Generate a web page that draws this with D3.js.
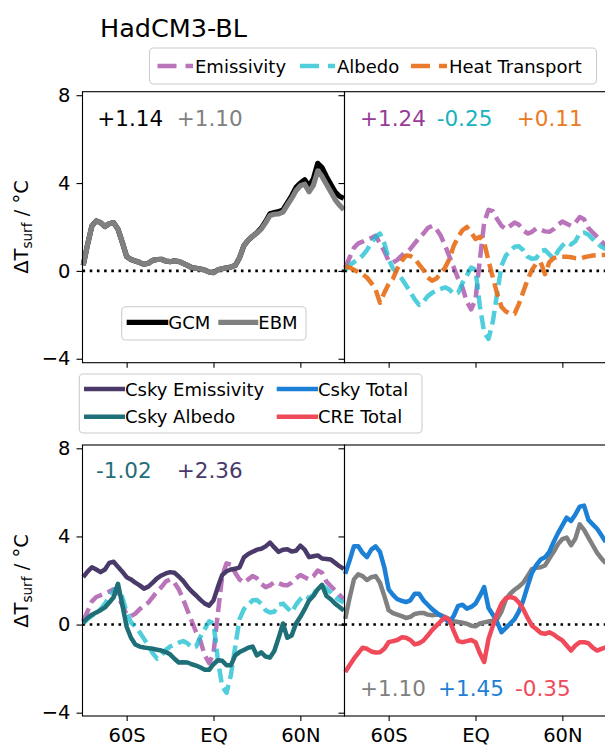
<!DOCTYPE html>
<html><head><meta charset="utf-8">
<script src="https://cdn.jsdelivr.net/npm/d3@7"></script>
<style>body{margin:0;background:#fff} svg{display:block} text{font-family:"DejaVu Sans",sans-serif}</style>
</head><body><svg id="c" width="605" height="747"></svg>
<script>
const lats = [-90,-87,-84,-81,-78,-75,-72,-69,-66,-63,-60,-57,-54,-51,-48,-45,-42,-39,-36,-33,-30,-27,-24,-21,-18,-15,-12,-9,-6,-3,0,3,6,9,12,15,18,21,24,27,30,33,36,39,42,45,48,51,54,57,60,63,66,69,72,75,78,81,84,87,90];
const ebm = [0.26,1.2,2.05,2.28,2.2,2.02,2.15,2.2,1.9,1.3,0.65,0.52,0.45,0.38,0.3,0.35,0.48,0.52,0.53,0.45,0.42,0.46,0.43,0.34,0.25,0.15,0.12,0.08,0.04,-0.05,-0.08,0.05,0.1,0.14,0.18,0.25,0.6,1.15,1.4,1.58,1.72,1.9,2.2,2.52,2.58,2.6,2.68,3.0,3.3,3.65,3.88,3.95,3.6,3.9,4.55,4.3,3.95,3.6,3.25,3.0,2.78];
const gcm = [0.26,1.2,2.05,2.28,2.2,2.02,2.15,2.2,1.9,1.3,0.65,0.52,0.45,0.38,0.3,0.35,0.48,0.52,0.53,0.45,0.42,0.46,0.43,0.34,0.25,0.15,0.12,0.08,0.04,-0.05,-0.08,0.05,0.1,0.14,0.18,0.25,0.6,1.15,1.4,1.58,1.74,1.95,2.25,2.6,2.66,2.7,2.78,3.1,3.42,3.8,4.0,4.15,3.85,4.2,4.9,4.7,4.3,3.95,3.6,3.4,3.3];
const emissivity = [0.15,0.6,1.05,1.25,1.33,1.42,1.5,1.6,1.25,0.9,0.45,0.38,0.5,0.7,0.85,1.0,1.25,1.5,1.7,1.95,2.05,1.9,1.6,1.15,0.65,0.15,-0.35,-0.75,-1.4,-1.75,-1.3,0.5,2.2,2.78,2.72,2.35,2.05,1.9,2.05,2.2,2.1,1.85,1.7,1.78,1.93,1.88,1.8,1.78,1.9,2.1,2.25,2.15,2.05,2.2,2.45,2.35,1.95,1.75,1.55,1.35,1.15];
const albedo = [0.05,0.25,0.4,0.52,0.7,0.95,1.25,1.55,1.7,1.25,0.55,0.1,-0.1,-0.35,-0.65,-0.96,-1.3,-1.55,-1.4,-1.15,-1.0,-0.9,-0.82,-0.75,-0.85,-1.05,-1.0,-0.55,-0.2,0.15,0.05,-1.6,-2.8,-3.1,-2.3,-1.0,0.25,0.7,0.9,1.1,1.12,0.94,0.65,0.55,0.58,0.9,0.95,0.75,0.55,0.9,1.15,1.32,1.2,1.35,1.72,1.75,1.65,1.45,1.25,1.1,1.0];
const heatTransport = [0.2,0.15,0.05,-0.05,-0.15,-0.3,-0.55,-0.85,-1.45,-1.0,-0.6,-0.35,0.1,0.45,0.7,0.68,0.56,0.3,0.05,-0.3,-0.45,-0.35,-0.1,0.15,0.55,1.15,1.55,1.85,2.0,1.75,1.45,1.55,1.3,0.45,-0.3,-1.05,-1.64,-1.85,-1.95,-1.95,-1.5,-0.95,-0.4,0.05,0.33,0.4,-0.15,0.4,0.58,0.64,0.65,0.64,0.62,0.58,0.56,0.62,0.66,0.7,0.72,0.72,0.72];
const cskyEmissivity = [2.15,2.4,2.6,2.5,2.38,2.5,2.8,2.85,2.62,2.4,2.15,2.05,1.9,1.78,1.63,1.72,1.9,2.1,2.23,2.32,2.38,2.35,2.18,1.98,1.72,1.5,1.32,1.12,0.95,0.86,1.1,1.7,2.25,2.42,2.5,2.53,2.6,3.05,3.2,3.3,3.4,3.44,3.55,3.72,3.5,3.3,3.4,3.42,3.32,3.35,3.58,3.4,3.06,3.1,3.14,3.0,2.98,2.95,2.8,2.65,2.53];
const cskyAlbedo = [0.1,0.3,0.45,0.55,0.65,0.78,1.0,1.24,1.85,0.9,-0.1,-0.6,-0.9,-1.0,-1.04,-1.07,-1.1,-1.14,-1.18,-1.25,-1.35,-1.55,-1.72,-1.71,-1.72,-1.8,-1.86,-1.95,-2.05,-2.05,-1.8,-1.62,-1.64,-1.85,-1.85,-1.4,-1.25,-1.15,-1.05,-1.0,-1.4,-1.26,-1.45,-1.5,-1.2,-0.6,0.05,-0.6,-0.5,0.05,0.35,0.7,1.09,1.3,1.6,1.8,1.3,1.15,0.95,0.8,0.64];
const cskyTotal = [2.3,2.9,3.55,3.55,3.25,3.06,3.4,3.55,3.3,2.6,1.6,1.35,1.15,1.08,1.02,1.1,1.4,1.4,1.1,0.9,0.7,0.55,0.4,0.25,0.1,0.4,0.85,0.9,0.72,0.8,0.95,1.3,1.7,0.75,0.45,0.1,-0.35,-0.15,0.05,0.25,0.6,1.1,1.75,2.35,2.7,2.95,3.05,3.3,3.75,4.15,4.5,4.85,4.7,5.0,5.35,5.4,4.75,4.55,4.35,4.05,3.75];
const creTotal = [-2.15,-1.85,-1.55,-1.3,-1.05,-1.1,-1.22,-1.27,-1.26,-1.1,-0.8,-0.75,-0.7,-0.58,-0.6,-0.7,-0.9,-0.85,-0.73,-0.5,-0.25,-0.05,0.15,0.33,0.2,-0.3,-0.75,-0.8,-0.75,-0.7,-0.8,-1.3,-1.7,-0.65,-0.05,0.5,0.95,1.2,1.25,1.2,1.0,0.7,0.3,-0.05,-0.2,-0.38,-0.42,-0.35,-0.45,-0.6,-0.72,-0.95,-1.18,-0.95,-0.8,-0.8,-0.85,-1.05,-1.18,-1.1,-1.03];

const xTickVals = [-60, 0, 60];
const xTickLabels = ["60S", "EQ", "60N"];
const yTickVals = [-4, 0, 4, 8];
const title = "HadCM3-BL";
const topLegendLabels = ["Emissivity", "Albedo", "Heat Transport"];
const innerLegendLabels = ["GCM", "EBM"];
const bottomLegendLabels = ["Csky Emissivity", "Csky Total", "Csky Albedo", "CRE Total"];
const annTL = ["+1.14", "+1.10"];
const annTR = ["+1.24", "-0.25", "+0.11"];
const annBL = ["-1.02", "+2.36"];
const annBR = ["+1.10", "+1.45", "-0.35"];

const C = {
  black: "#000000", gray: "#808080",
  emis: "#a347a3", emisT: "#983a98",
  alb: "#17becf", albT: "#17b2c0",
  heat: "#e8701a", heatT: "#ec7a22",
  cEmis: "#4a3a6a", cAlb: "#1f6f78", cTot: "#1c80d6", cre: "#f04a5a"
};

const svg = d3.select("#c");
const xDom = [-90.5, 90.5];
const xL = d3.scaleLinear().domain(xDom).range([82.5, 344.5]);
const xR = d3.scaleLinear().domain(xDom).range([344.5, 606.5]);
const yT = d3.scaleLinear().domain([-4.18, 8.16]).range([362.7, 91.7]);
const yB = d3.scaleLinear().domain([-4.15, 8.15]).range([716, 445]);

const panels = [
  {x: xL, y: yT, ylab: true, xlab: false},
  {x: xR, y: yT, ylab: false, xlab: false},
  {x: xL, y: yB, ylab: true, xlab: true},
  {x: xR, y: yB, ylab: false, xlab: true}
];
const fmtY = d => d < 0 ? "\u2212" + Math.abs(d) : String(d);

panels.forEach(p => {
  const [x0, x1] = p.x.range();
  const [yb, yt] = p.y.range();
  svg.append("line").attr("x1", x0).attr("x2", x1).attr("y1", p.y(0)).attr("y2", p.y(0))
    .attr("stroke", "#000").attr("stroke-width", 2.6).attr("stroke-dasharray", "2.6,4.6");
  const ya = d3.axisLeft(p.y).tickValues(yTickVals).tickSize(6).tickPadding(6)
    .tickFormat(p.ylab ? fmtY : () => "");
  const gy = svg.append("g").attr("transform", `translate(${x0},0)`).call(ya);
  const xa = d3.axisBottom(p.x).tickValues(xTickVals).tickSize(5).tickPadding(7)
    .tickFormat((d, i) => p.xlab ? xTickLabels[i] : "");
  const gx = svg.append("g").attr("transform", `translate(0,${yb})`).call(xa);
  [gx, gy].forEach(g => {
    g.select(".domain").remove();
    g.selectAll("line").attr("stroke", "#000").attr("stroke-width", 1.1);
    g.selectAll("text").attr("font-size", 19.5).attr("fill", "#000")
      .attr("font-family", "DejaVu Sans");
  });
});

function drawLine(p, vals, color, opts) {
  const line = d3.line().x((d, i) => p.x(lats[i])).y(d => p.y(d));
  svg.append("path").datum(vals).attr("d", line).attr("fill", "none")
    .attr("stroke", color).attr("stroke-width", opts.w || 4.5)
    .attr("stroke-linejoin", "round")
    .attr("stroke-dasharray", opts.dash || null)
    .attr("stroke-opacity", opts.op || 1);
}
const dash = "14,6";
drawLine(panels[0], gcm, C.black, {w: 5.2});
drawLine(panels[0], ebm, C.gray, {w: 5.2});
drawLine(panels[1], emissivity, C.emis, {dash, op: 0.75});
drawLine(panels[1], albedo, C.alb, {dash, op: 0.75});
drawLine(panels[1], heatTransport, C.heat, {dash, op: 0.92});
drawLine(panels[2], emissivity, C.emis, {dash, op: 0.75});
drawLine(panels[2], albedo, C.alb, {dash, op: 0.75});
drawLine(panels[2], cskyEmissivity, C.cEmis, {w: 4.5});
drawLine(panels[2], cskyAlbedo, C.cAlb, {w: 4.5});
drawLine(panels[3], ebm, C.gray, {w: 4.5});
drawLine(panels[3], cskyTotal, C.cTot, {w: 4.5});
drawLine(panels[3], creTotal, C.cre, {w: 4.5});

panels.forEach(p => {
  const [x0, x1] = p.x.range();
  const [yb, yt] = p.y.range();
  svg.append("rect").attr("x", x0).attr("y", yt).attr("width", x1 - x0).attr("height", yb - yt)
    .attr("fill", "none").attr("stroke", "#000").attr("stroke-width", 1.1);
});

function ann(xs, y, labels, colors) {
  labels.forEach((t, i) => svg.append("text").attr("x", xs[i]).attr("y", y).text(t)
    .attr("font-size", 21.5).attr("fill", colors[i]));
}
ann([97.3, 176.7], 125.5, annTL, [C.black, C.gray]);
ann([360, 436.7, 516.7], 125.5, annTR, [C.emisT, C.albT, C.heatT]);
ann([96, 176.7], 478, annBL, [C.cAlb, C.cEmis]);
ann([360, 438, 515], 696, annBR, [C.gray, C.cTot, C.cre]);

svg.append("text").attr("x", 100).attr("y", 37).text(title).attr("font-size", 25.5).attr("fill", "#000");

function ylab(cx, cy) {
  const t = svg.append("text").attr("transform", `translate(${cx},${cy}) rotate(-90)`)
    .attr("text-anchor", "middle").attr("font-size", 19.5).attr("fill", "#000");
  t.append("tspan").text("\u0394T");
  t.append("tspan").text("surf").attr("font-size", 13.6).attr("dy", 4);
  t.append("tspan").text(" / \u00b0C").attr("dy", -4);
}
ylab(28, 227);
ylab(28, 581);

function legendBox(x, y, w, h) {
  svg.append("rect").attr("x", x).attr("y", y).attr("width", w).attr("height", h)
    .attr("rx", 4).attr("fill", "#fff").attr("fill-opacity", 0.85)
    .attr("stroke", "#cccccc").attr("stroke-width", 1.1);
}
function legendItem(x0, x1, y, color, label, o) {
  svg.append("line").attr("x1", x0).attr("x2", x1).attr("y1", y).attr("y2", y)
    .attr("stroke", color).attr("stroke-width", o.w || 4.5)
    .attr("stroke-dasharray", o.dash || null).attr("stroke-opacity", o.op || 1);
  svg.append("text").attr("x", x1 + (o.pad || 0)).attr("y", y + 6.6).text(label)
    .attr("font-size", 18).attr("fill", "#000");
}
legendBox(149.5, 48, 447, 36);
legendItem(157.5, 193, 66, C.emis, topLegendLabels[0], {dash: "19,9", op: 0.75, pad: 2});
legendItem(300, 335, 66, C.alb, topLegendLabels[1], {dash: "19,9", op: 0.75, pad: 2});
legendItem(411, 447, 66, C.heat, topLegendLabels[2], {dash: "19,9", op: 0.92, pad: 2});
legendBox(121.7, 306.7, 184.3, 33.3);
legendItem(126.7, 168.3, 322.3, C.black, innerLegendLabels[0], {w: 5.2});
legendItem(218.3, 258.3, 322.3, C.gray, innerLegendLabels[1], {w: 5.2});
legendBox(79.3, 374, 342.7, 59);
legendItem(84, 125, 389, C.cEmis, bottomLegendLabels[0], {});
legendItem(276.7, 318, 389, C.cTot, bottomLegendLabels[1], {});
legendItem(84, 125, 416.7, C.cAlb, bottomLegendLabels[2], {});
legendItem(276.7, 318, 416.7, C.cre, bottomLegendLabels[3], {});
</script>
</body></html>
